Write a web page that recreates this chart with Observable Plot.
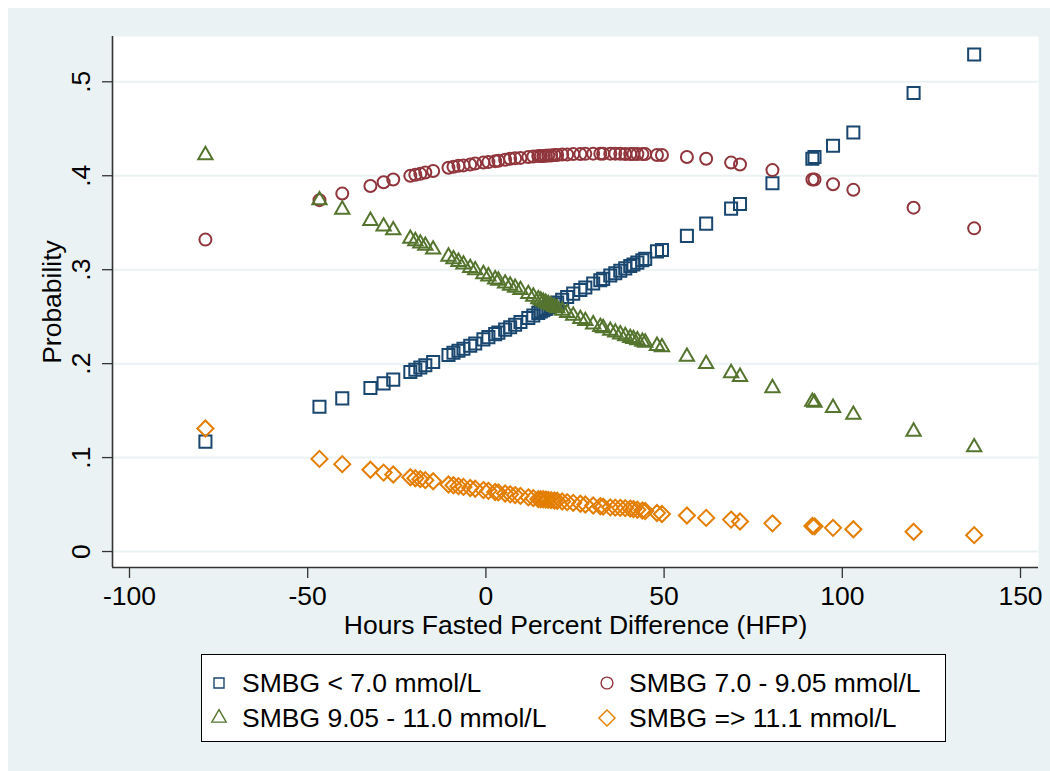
<!DOCTYPE html>
<html><head><meta charset="utf-8">
<script src="https://cdn.jsdelivr.net/npm/d3@7"></script>
<script src="https://cdn.jsdelivr.net/npm/@observablehq/plot@0.6"></script>
<style>
body{margin:0;background:#fff;font-family:"Liberation Sans",Arial,Helvetica,sans-serif;}
#wrap{position:relative;width:1050px;height:771px;overflow:hidden;background:#fff}
#bg{position:absolute;left:8px;top:8px;right:0;bottom:0;background:#eaf2f3}
#chart{position:absolute;left:0;top:0}
#legend{position:absolute;left:201px;top:654px;width:745px;height:88px;box-sizing:border-box;border:1.5px solid #000;background:#fff}
.sym{position:absolute;width:18px;height:18px;overflow:visible}
.lab{position:absolute;height:30px;line-height:30px;font-size:26.5px;white-space:nowrap;color:#000}
</style></head>
<body><div id="wrap"><div id="bg"></div><div id="chart"></div><div id="legend"></div></div>
<script>
// Hours Fasted Percent Difference (x)
const hfp = [-78.7,-46.7,-40.3,-32.4,-28.7,-26.0,-21.2,-19.8,-18.4,-17.0,-14.8,-10.5,-9.1,-7.7,-6.3,-4.4,-3.0,-0.7,0.7,2.6,3.5,5.4,6.8,8.2,9.7,11.9,13.3,14.7,15.4,16.1,16.8,17.5,18.3,19.2,20.0,21.4,22.8,24.5,26.5,27.9,30.1,32.1,32.9,34.9,36.3,37.7,39.1,40.5,41.4,42.5,43.9,44.7,48.0,49.4,56.4,61.8,68.8,71.3,80.4,91.6,92.2,97.4,103.1,120.0,137.0];
// SMBG < 7.0 mmol/L
const pLow = [.117,.154,.163,.174,.179,.183,.191,.1934,.1958,.1982,.2018,.2092,.2115,.2137,.2159,.219,.2214,.2258,.2282,.2314,.233,.2362,.2388,.2414,.2443,.2486,.2513,.254,.2554,.2568,.2583,.2598,.2615,.2633,.265,.268,.271,.2745,.2784,.2811,.2852,.2888,.2902,.2938,.2963,.2989,.3014,.3039,.3055,.3075,.31,.3115,.3195,.321,.336,.349,.365,.37,.392,.418,.42,.432,.446,.488,.529];
// SMBG 7.0 - 9.05 mmol/L
const pMid = [.332,.374,.381,.389,.393,.396,.400,.401,.402,.4035,.405,.4085,.4095,.4105,.411,.412,.413,.414,.4145,.4155,.416,.417,.418,.4185,.419,.420,.4205,.421,.421,.421,.4212,.4215,.4215,.422,.422,.4225,.4225,.423,.423,.4233,.4235,.4235,.4235,.4235,.4235,.4233,.4232,.423,.423,.423,.423,.423,.422,.422,.420,.418,.414,.412,.406,.396,.396,.391,.385,.366,.344];
// SMBG 9.05 - 11.0 mmol/L
const pHigh = [.422,.374,.364,.352,.346,.342,.333,.3305,.328,.3255,.3216,.314,.3112,.3084,.3056,.3019,.2994,.2953,.2929,.2898,.2884,.2854,.2831,.2809,.2785,.2742,.2714,.2686,.2673,.266,.2648,.2635,.262,.2604,.259,.2565,.254,.251,.2476,.2454,.2419,.239,.2379,.2351,.2332,.2312,.2293,.2274,.2263,.225,.2233,.2224,.219,.2175,.2074,.1997,.190,.186,.174,.1595,.1585,.153,.1457,.1277,.111];
// SMBG => 11.1 mmol/L
const pVHigh = [.131,.0986,.093,.087,.084,.082,.079,.078,.077,.076,.0748,.0713,.0705,.0696,.0688,.0676,.0668,.0654,.0646,.0634,.0629,.0618,.0609,.0601,.0592,.0577,.0568,.0558,.0557,.0556,.0553,.055,.0547,.0543,.054,.0533,.0526,.0518,.0508,.0501,.049,.0482,.0478,.047,.0467,.0465,.0462,.0457,.0452,.0445,.0437,.0432,.041,.040,.0383,.0358,.034,.032,.030,.0272,.0268,.0252,.0237,.021,.0174];

const seriesNames = ["SMBG < 7.0 mmol/L","SMBG 7.0 - 9.05 mmol/L","SMBG 9.05 - 11.0 mmol/L","SMBG => 11.1 mmol/L"];
const seriesColors = ["#1a476f","#90353b","#55752f","#e37e00"];
const xTicks = [-100,-50,0,50,100,150];
const xTickLabels = ["-100","-50","0","50","100","150"];
const yTicks = [0,.1,.2,.3,.4,.5];
const yTickLabels = ["0",".1",".2",".3",".4",".5"];
const xTitle = "Hours Fasted Percent Difference (HFP)";
const yTitle = "Probability";

const FONT = '"Liberation Sans", Arial, Helvetica, sans-serif';
const FS = 26.5;
const xDomain = [-104.77, 155.05];
const yDomain = [-0.017, 0.5482];

const symSquare = {draw(c, s){const a=Math.sqrt(s)/2;c.moveTo(-a,-a);c.lineTo(a,-a);c.lineTo(a,a);c.lineTo(-a,a);c.closePath();}};
const symCircle = {draw(c, s){const r=Math.sqrt(s/Math.PI);c.moveTo(r,0);c.arc(0,0,r,0,2*Math.PI);}};
const symTriangle = {draw(c, s){const a=Math.sqrt(s*4/Math.sqrt(3));const h=a*Math.sqrt(3)/2;c.moveTo(0,-2*h/3);c.lineTo(a/2,h/3);c.lineTo(-a/2,h/3);c.closePath();}};
const symDiamond = {draw(c, s){const h=Math.sqrt(s/2);c.moveTo(0,-h);c.lineTo(h,0);c.lineTo(0,h);c.lineTo(-h,0);c.closePath();}};
const symbols = [symSquare, symCircle, symTriangle, symDiamond];
const radii = [6.8, 6.0, 5.3, 6.4];
const seriesValues = [pLow, pMid, pHigh, pVHigh];

const rows = seriesValues.map(v => hfp.map((x, i) => ({x, p: v[i]})));

const chart = Plot.plot({
  width: 1050, height: 650,
  marginTop: 36, marginLeft: 112, marginRight: 12, marginBottom: 83,
  style: {background: "transparent", fontFamily: FONT, overflow: "visible"},
  x: {domain: xDomain, label: null},
  y: {domain: yDomain, label: null},
  marks: [
    Plot.frame({fill: "white", stroke: null}),
    Plot.ruleY(yTicks, {stroke: "#eaf2f3", strokeWidth: 2}),
    Plot.axisY(yTicks, {tickSize: 10, tickFormat: () => "", stroke: "#333", strokeWidth: 1.3, label: null}),
    Plot.axisX(xTicks, {tickSize: 11, tickFormat: () => "", stroke: "#333", strokeWidth: 1.3, label: null}),
    Plot.ruleX([xDomain[0]], {stroke: "#333", strokeWidth: 1.6}),
    Plot.ruleY([yDomain[0]], {stroke: "#333", strokeWidth: 1.6}),
    ...rows.map((r, k) => Plot.dot(r, {x: "x", y: "p", symbol: symbols[k], r: radii[k], stroke: seriesColors[k], strokeWidth: 2, fill: "none"})),
    Plot.text(xTicks, {x: d => d, frameAnchor: "bottom", dy: 29, text: (d, i) => xTickLabels[i], fontSize: FS, fill: "black", lineAnchor: "middle"}),
    Plot.text(yTicks, {y: d => d, frameAnchor: "left", dx: -31, rotate: -90, text: (d, i) => yTickLabels[i], fontSize: FS, fill: "black", lineAnchor: "middle", textAnchor: "middle"}),
    Plot.text([xTitle], {frameAnchor: "bottom", dy: 58, text: d => d, fontSize: FS, fill: "black", lineAnchor: "middle"}),
    Plot.text([yTitle], {frameAnchor: "left", dx: -60, rotate: -90, text: d => d, fontSize: FS, fill: "black", lineAnchor: "middle", textAnchor: "middle"})
  ]
});
document.getElementById("chart").appendChild(chart);

// Legend
const legend = document.getElementById("legend");
const pos = [[17, 40, 28], [405, 427, 28], [17, 40, 63], [405, 427, 63]];
const legendOrder = [0, 1, 2, 3];
legendOrder.forEach((k, j) => {
  const [sx, tx, cy] = pos[j];
  const svg = d3.create("svg").attr("class", "sym").attr("width", 18).attr("height", 18)
    .style("left", (sx - 9) + "px").style("top", (cy - 9) + "px");
  const size = [100, 110, 90, 130][k];
  svg.append("path").attr("transform", "translate(9,9)")
    .attr("d", d3.symbol(symbols[k], size)())
    .attr("fill", "none").attr("stroke", seriesColors[k]).attr("stroke-width", 1.4);
  legend.appendChild(svg.node());
  const span = document.createElement("span");
  span.className = "lab";
  span.style.left = tx + "px";
  span.style.top = (cy - 15) + "px";
  span.textContent = seriesNames[k];
  legend.appendChild(span);
});
</script>
</body></html>
